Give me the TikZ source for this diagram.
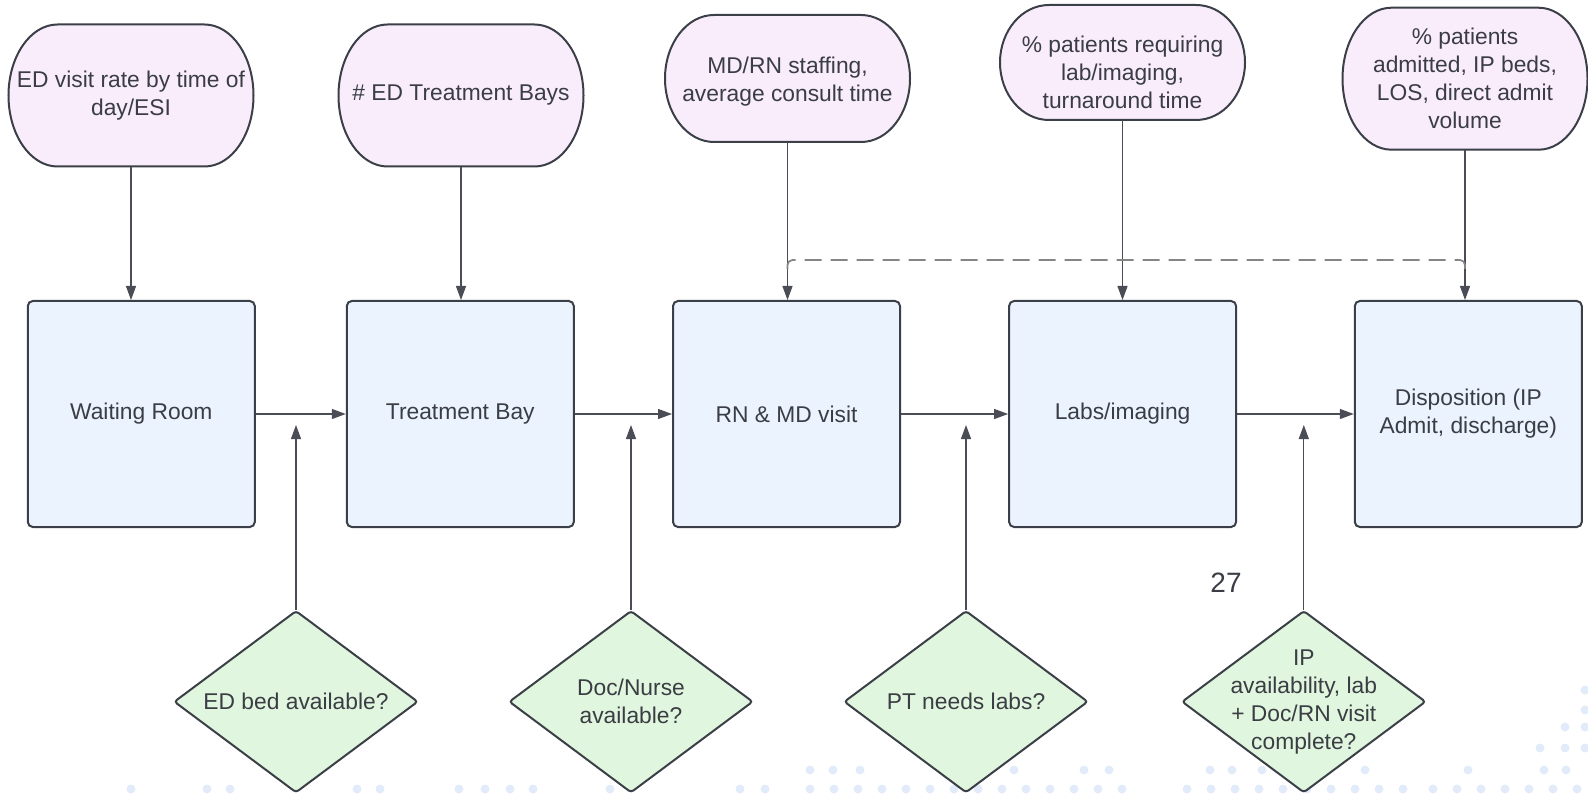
\documentclass[tikz,border=0pt]{standalone}
\usepackage{fontspec}
\setmainfont{Liberation Sans}
\usepackage{xcolor}
\usepackage{tikz}
\usetikzlibrary{calc,shapes.geometric,arrows.meta}

\definecolor{ink}{HTML}{3A3D44}
\definecolor{edge}{HTML}{3B3F47}
\definecolor{wire}{HTML}{4A4D55}
\definecolor{dashgray}{HTML}{858585}
\definecolor{kpifill}{HTML}{F9EDFC}
\definecolor{stagefill}{HTML}{EBF3FE}
\definecolor{checkfill}{HTML}{E1F6DE}
\definecolor{dotblue}{HTML}{E2EBF9}

% pill outline round a centre point (flat top, half-ellipse ends), #2 = half height
\newcommand\pill[2]{%
  \filldraw[draw=edge,fill=kpifill,line width=2pt]
    ($#1+(-73.5,-#2)$) -- ($#1+(73.5,-#2)$)
    arc[start angle=90,end angle=-90,x radius=49pt,y radius=#2pt]
    -- ($#1+(-73.5,#2)$)
    arc[start angle=270,end angle=90,x radius=49pt,y radius=#2pt] -- cycle;}

\begin{document}
\begin{tikzpicture}[x=1pt,y=-1pt]
  \tikzset{every node/.style={text=ink,align=center,inner sep=0pt,font=\fontsize{22.8pt}{28pt}\selectfont}};
  \tikzset{kpi/.style={shape=rectangle,minimum width=245pt,minimum height=142pt},
           stage/.style={shape=rectangle,draw=edge,fill=stagefill,line width=2pt,rounded corners=5pt,minimum width=227pt,minimum height=226pt},
           check/.style={shape=diamond,draw=edge,fill=checkfill,line width=2pt,rounded corners=3pt,minimum width=244pt,minimum height=182pt,label={center:{#1}}},
           flow/.style={draw=wire,line width=1.2pt,-{Triangle[length=14pt,width=10pt]}},
           waitline/.style={draw=dashgray,line width=1.7pt,dash pattern=on 17pt off 9pt,rounded corners=5pt}};
  \useasboundingbox (0,0) rectangle (1588,794);

  % faint slide dots
  \foreach \x in {131,207,230,357,380,459,485,510,533,610,740,765,810,834,...,1122,1187,1211,...,1403,1433,1457,...,1588}
    \fill[dotblue] (\x,789) circle[radius=4.5pt];
  \foreach \x in {810,833,860,1014,1084,1109,1210,1232,1262,1365,1468,1544,1566}
    \fill[dotblue] (\x,770) circle[radius=4.5pt];
  \foreach \p in {(1585,690),(1585,710),(1565,727),(1585,727),(1540,748),(1565,748),(1585,748)}
    \fill[dotblue] \p circle[radius=4.5pt];

  \pill{(131,95.5)}{71}
  \pill{(461,95.5)}{71}
  \pill{(787.5,78.5)}{63.5}
  \pill{(1122.5,62.5)}{57.5}
  \pill{(1465,78.7)}{71}
  \node[kpi] (rate)  at (131,95.5)   {ED visit rate by time of\\day/ESI};
  \node[kpi] (bays)  at (461,95.5)   {\# ED Treatment Bays};
  \node[kpi,minimum height=120pt] (staff) at (787.5,82) {MD/RN staffing,\\average consult time};
  \node[kpi,minimum height=96pt]  (share) at (1122.5,72) {\% patients requiring\\lab/imaging,\\turnaround time};
  \node[kpi] (adm)   at (1465,78.7)  {\% patients\\admitted, IP beds,\\LOS, direct admit\\volume};

  \node[stage] (wait)  at (141.3,414)  {Waiting Room};
  \node[stage] (bay)   at (460.3,414)  {Treatment Bay};
  \node[stage] (visit) at (786.5,414)  {RN \& MD visit};
  \node[stage] (labs)  at (1122.6,414) {Labs/imaging};
  \node[stage] (disp)  at (1468.3,414) {Disposition (IP\\Admit, discharge)};

  \node[check={ED bed available?}] (bed) at (296,701.7) {};
  \node[check={Doc/Nurse\\available?}] (doc) at (631,701.7) {};
  \node[check={PT needs labs?}] (pt) at (966,701.7) {};
  \node[check={IP\\availability, lab\\+ Doc/RN visit\\complete?}] (ip) at (1303.8,701.7) {};

  \node (pg) at (1226,583) {\fontsize{28pt}{30pt}\selectfont 27};

  \draw[flow] (rate.south)  -- (rate.south |- wait.north);
  \draw[flow] (bays.south)  -- (bays.south |- bay.north);
  \draw[flow] (staff.south) -- (staff.south |- visit.north);
  \draw[flow] (share.south) -- (share.south |- labs.north);
  \draw[flow] (adm.south)   -- (adm.south |- disp.north);

  \coordinate (dash) at (0,260);
  \draw[waitline] ($(adm.south |- dash)+(0,9)$) -- (adm.south |- dash) -- (staff.south |- dash) -- ++(0,9);

  \draw[flow] (wait.east)  -- (bay.west);
  \draw[flow] (bay.east)   -- (visit.west);
  \draw[flow] (visit.east) -- (labs.west);
  \draw[flow] (labs.east)  -- (disp.west);

  \draw[flow] (bed.north) -- ($(bed.north |- wait.east)+(0,11)$);
  \draw[flow] (doc.north) -- ($(doc.north |- wait.east)+(0,11)$);
  \draw[flow] (pt.north)  -- ($(pt.north |- wait.east)+(0,11)$);
  \draw[flow] (ip.north)  -- ($(ip.north |- wait.east)+(0,11)$);
\end{tikzpicture}
\end{document}
